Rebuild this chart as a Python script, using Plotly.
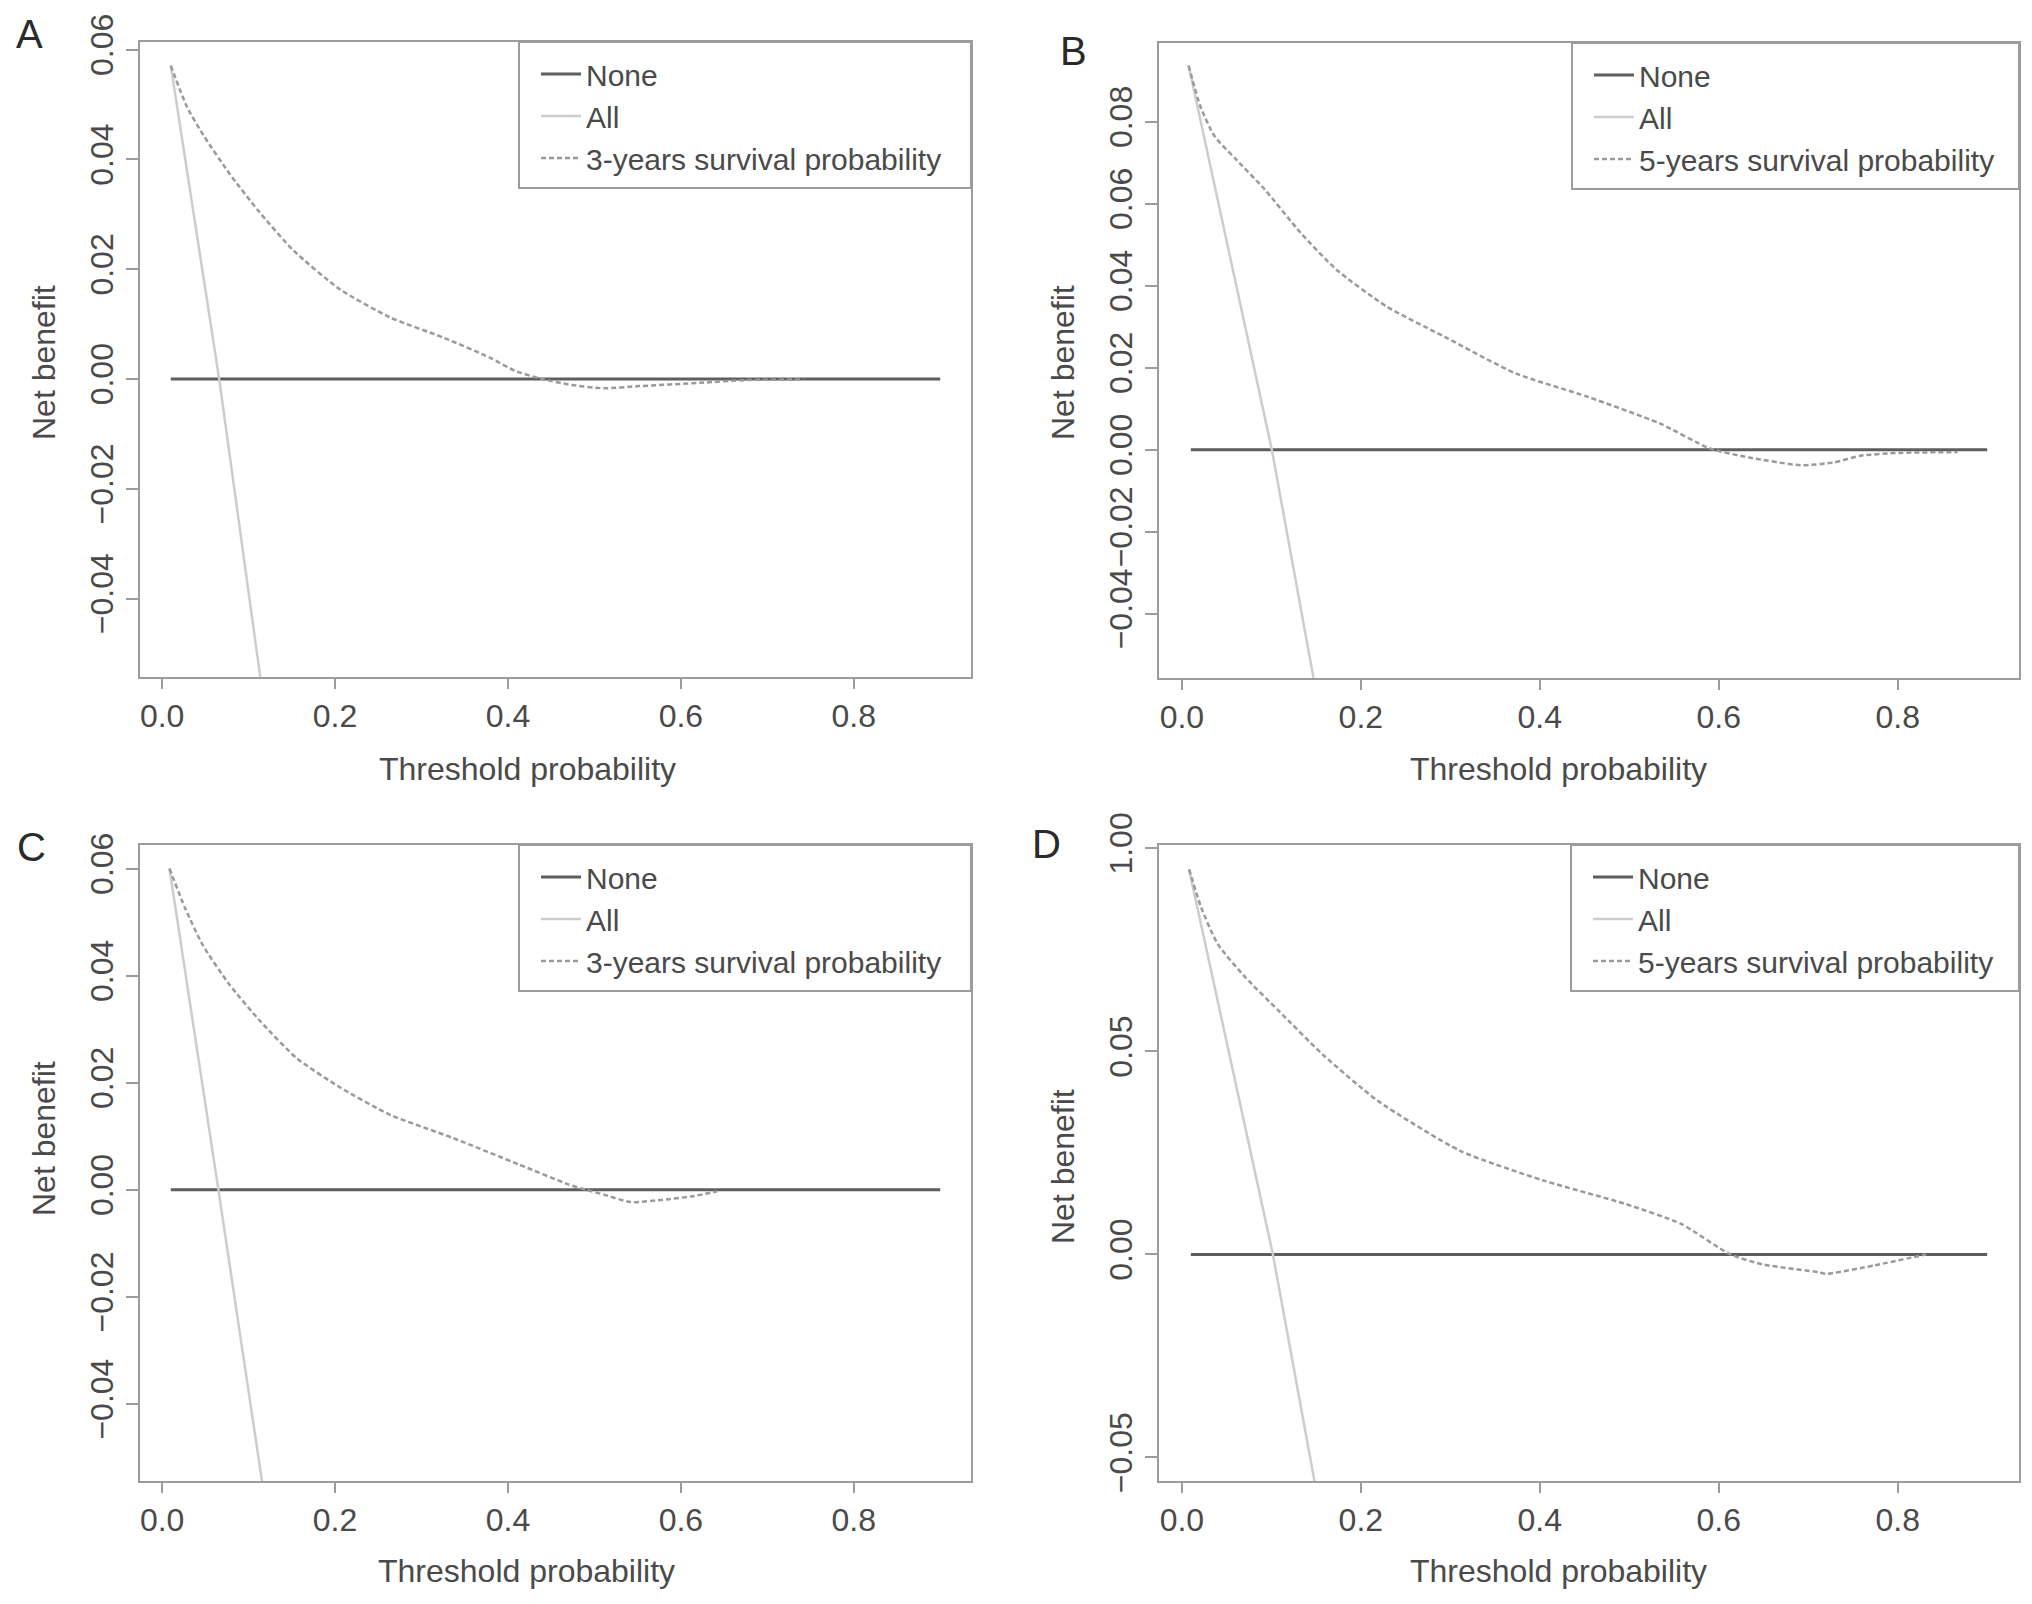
import plotly.graph_objects as go

# threshold probability values (x) and net benefit values (y)
a_thr = [0.01, 0.029, 0.049, 0.078, 0.111, 0.152, 0.206, 0.264, 0.326, 0.379, 0.408, 0.437, 0.47, 0.511, 0.552, 0.622, 0.675, 0.742]
a_nb = [0.0571, 0.0495, 0.0441, 0.0374, 0.0307, 0.0234, 0.0163, 0.0112, 0.0075, 0.0039, 0.0015, 0.0001, -0.001, -0.0017, -0.0013, -0.0007, -0.0002, -0.0001]
a_all_thr = [0.01, 0.066, 0.115]
a_all_nb = [0.0571, 0.0, -0.056]

b_thr = [0.0075, 0.0204, 0.0364, 0.0605, 0.0925, 0.1327, 0.1728, 0.229, 0.293, 0.373, 0.4535, 0.534, 0.59, 0.634, 0.692, 0.729, 0.758, 0.801, 0.867]
b_nb = [0.0937, 0.0839, 0.0765, 0.0708, 0.0635, 0.0529, 0.0439, 0.0349, 0.0276, 0.0186, 0.0129, 0.0064, 0.0003, -0.0019, -0.0038, -0.0031, -0.0015, -0.0008, -0.0006]
b_all_thr = [0.0075, 0.1005, 0.149]
b_all_nb = [0.0937, 0.0, -0.058]

c_thr = [0.0085, 0.0266, 0.047, 0.078, 0.114, 0.1555, 0.207, 0.2637, 0.336, 0.413, 0.47, 0.49, 0.511, 0.542, 0.583, 0.614, 0.642]
c_nb = [0.060, 0.0526, 0.0457, 0.0383, 0.0314, 0.0246, 0.019, 0.014, 0.0097, 0.0047, 0.001, 0.0, -0.0009, -0.0023, -0.0018, -0.0012, -0.0003]
c_all_thr = [0.0085, 0.0651, 0.117]
c_all_nb = [0.060, 0.0, -0.056]

d_thr = [0.0081, 0.0216, 0.0401, 0.071, 0.108, 0.157, 0.219, 0.311, 0.404, 0.496, 0.558, 0.613, 0.65, 0.712, 0.72, 0.774, 0.832]
d_nb = [0.0948, 0.0854, 0.0764, 0.0682, 0.060, 0.0493, 0.0378, 0.0255, 0.0182, 0.0124, 0.0075, 0.0, -0.0025, -0.0044, -0.0048, -0.0027, 0.0]
d_all_thr = [0.008, 0.1017, 0.15]
d_all_nb = [0.0948, 0.0, -0.058]

none_thr = [0.01, 0.9]
none_nb = [0.0, 0.0]

x_ticks = [0.0, 0.2, 0.4, 0.6, 0.8]
x_ticktext = ["0.0", "0.2", "0.4", "0.6", "0.8"]
y_ticks_ac = [-0.04, -0.02, 0.0, 0.02, 0.04, 0.06]
y_ticktext_ac = ["\u22120.04", "\u22120.02", "0.00", "0.02", "0.04", "0.06"]
y_ticks_b = [-0.04, -0.02, 0.0, 0.02, 0.04, 0.06, 0.08]
y_ticktext_b = ["\u22120.04", "\u22120.02", "0.00", "0.02", "0.04", "0.06", "0.08"]
y_ticks_d = [-0.05, 0.0, 0.05, 0.10]
y_ticktext_d = ["\u22120.05", "0.00", "0.05", "1.00"]

W, H = 2032, 1604
FONT = "Liberation Sans"
TXT = "#4a4a4a"
FRAME = "#9c9c9c"

panels = [
    dict(letter="A", thr=a_thr, nb=a_nb, all_thr=a_all_thr, all_nb=a_all_nb,
         name="3-years survival probability", box=(140, 971, 42, 677), yr=[-0.0543, 0.0614],
         yt=y_ticks_ac, ytt=y_ticktext_ac, leg=(519, 42), let=(29, 34), xt=(527, 769), ytit=(44, 363)),
    dict(letter="B", thr=b_thr, nb=b_nb, all_thr=b_all_thr, all_nb=b_all_nb,
         name="5-years survival probability", box=(1159, 2019, 43, 678), yr=[-0.0557, 0.0992],
         yt=y_ticks_b, ytt=y_ticktext_b, leg=(1572, 43), let=(1073, 51), xt=(1558, 769), ytit=(1063, 363)),
    dict(letter="C", thr=c_thr, nb=c_nb, all_thr=c_all_thr, all_nb=c_all_nb,
         name="3-years survival probability", box=(140, 971, 845, 1481), yr=[-0.0544, 0.0644],
         yt=y_ticks_ac, ytt=y_ticktext_ac, leg=(519, 845), let=(31, 847), xt=(526, 1571), ytit=(44, 1139)),
    dict(letter="D", thr=d_thr, nb=d_nb, all_thr=d_all_thr, all_nb=d_all_nb,
         name="5-years survival probability", box=(1159, 2019, 845, 1481), yr=[-0.0558, 0.1008],
         yt=y_ticks_d, ytt=y_ticktext_d, leg=(1571, 845), let=(1046, 844), xt=(1558, 1571), ytit=(1063, 1167)),
]

fig = go.Figure()
layout = dict(width=W, height=H, margin=dict(l=0, r=0, t=0, b=0, autoexpand=False),
              paper_bgcolor="white", plot_bgcolor="white", showlegend=True)
annotations = []
shapes = []

for i, p in enumerate(panels):
    n = "" if i == 0 else str(i + 1)
    xa, ya = "x" + n, "y" + n
    lg = "legend" + n
    x0, x1, y0, y1 = p["box"]
    fig.add_trace(go.Scatter(x=none_thr, y=none_nb, mode="lines", name="None", xaxis=xa, yaxis=ya,
                             legend=lg, line=dict(color="#5e5e5e", width=3)))
    fig.add_trace(go.Scatter(x=p["all_thr"], y=p["all_nb"], mode="lines", name="All", xaxis=xa, yaxis=ya,
                             legend=lg, line=dict(color="#cdcdcd", width=2.5)))
    fig.add_trace(go.Scatter(x=p["thr"], y=p["nb"], mode="lines", name=p["name"], xaxis=xa, yaxis=ya,
                             legend=lg, line=dict(color="#9a9a9a", width=2.5, dash="5px,3px", shape="spline", smoothing=0.6)))

    layout["xaxis" + n] = dict(domain=[x0 / W, x1 / W], anchor=ya, range=[-0.0256, 0.9356],
                               tickvals=x_ticks, ticktext=x_ticktext, ticks="outside", ticklen=10,
                               tickwidth=2, tickcolor=FRAME, showline=True, mirror=True, linecolor=FRAME,
                               linewidth=2, showgrid=False, zeroline=False, ticklabelstandoff=0,
                               automargin=False, tickfont=dict(family=FONT, size=32, color=TXT))
    layout["yaxis" + n] = dict(domain=[1 - y1 / H, 1 - y0 / H], anchor=xa, range=p["yr"],
                               tickvals=p["yt"], ticktext=p["ytt"], ticks="outside", ticklen=12,
                               tickwidth=2, tickcolor=FRAME, showline=True, mirror=True, linecolor=FRAME,
                               linewidth=2, showgrid=False, zeroline=False, tickangle=-90,
                               ticklabelstandoff=0, automargin=False,
                               tickfont=dict(family=FONT, size=32, color=TXT))
    lx, ly = p["leg"]
    layout[lg] = dict(x=(lx + 17) / W, y=1 - (ly + 6) / H, xanchor="left", yanchor="top",
                      bgcolor="rgba(0,0,0,0)", borderwidth=0, itemwidth=40,
                      font=dict(family=FONT, size=30, color=TXT), tracegroupgap=0)
    shapes.append(dict(type="rect", xref="paper", yref="paper", x0=lx / W, x1=x1 / W,
                       y0=1 - (ly + 146) / H, y1=1 - ly / H, line=dict(color=FRAME, width=2),
                       fillcolor="white", layer="below"))
    annotations.append(dict(text=p["letter"], x=p["let"][0] / W, y=1 - p["let"][1] / H, xref="paper",
                            yref="paper", showarrow=False, xanchor="center", yanchor="middle",
                            font=dict(family=FONT, size=40, color="#2a2a2a")))
    annotations.append(dict(text="Threshold probability", x=p["xt"][0] / W, y=1 - p["xt"][1] / H,
                            xref="paper", yref="paper", showarrow=False, xanchor="center", yanchor="middle",
                            font=dict(family=FONT, size=32, color=TXT)))
    annotations.append(dict(text="Net benefit", x=p["ytit"][0] / W, y=1 - p["ytit"][1] / H, textangle=-90,
                            xref="paper", yref="paper", showarrow=False, xanchor="center", yanchor="middle",
                            font=dict(family=FONT, size=32, color=TXT)))

layout["annotations"] = annotations
layout["shapes"] = shapes
fig.update_layout(**layout)
fig.write_html("out.html", config={"displayModeBar": False},
               post_script="document.body.style.margin='0';")
